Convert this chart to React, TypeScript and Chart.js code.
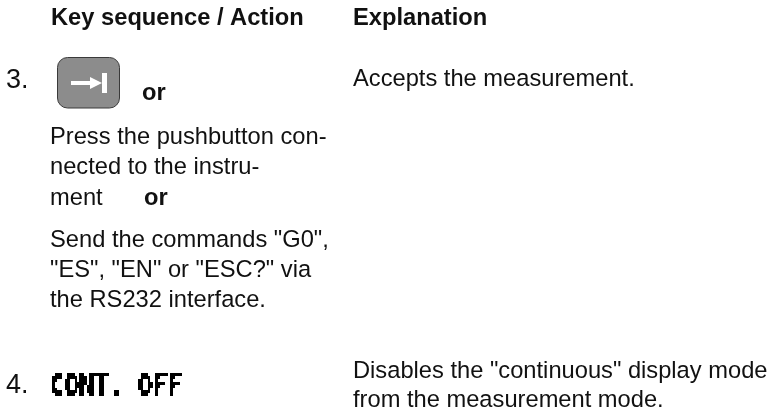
import React, { useEffect, useRef } from "react";
import { Chart, registerables } from "chart.js";

Chart.register(...registerables);

const headerTexts = ["Key sequence / Action", "Explanation"];
const bodyTexts = [
  "Press the pushbutton con-",
  "nected to the instru-",
  "ment",
  'Send the commands "G0",',
  '"ES", "EN" or "ESC?" via',
  "the RS232 interface.",
  "Accepts the measurement.",
  'Disables the "continuous" display mode',
  "from the measurement mode.",
];
const stepTexts = ["3.", "4."];
const orTexts = ["or", "or"];
const lcdText = "CONT. OFF";

const headerX = [51, 353];
const headerY = [25, 25];
const bodyX = [50, 50, 50, 50, 50, 50, 353, 353, 353];
const bodyY = [144, 174, 205, 247, 277, 307, 86, 378, 407];
const stepX = [6, 6];
const stepY = [88, 393];
const orX = [142, 144];
const orY = [100, 205];

const FONT = '"Liberation Sans", Arial, sans-serif';
const INK = "#111";

function drawLcd(ctx: CanvasRenderingContext2D, x: number, baseY: number) {
  // Low resolution, thresholded text scaled up to imitate a dot-matrix display.
  const cellW = 2.45;
  const cellH = 2.9;
  const off = document.createElement("canvas");
  off.width = 56;
  off.height = 10;
  const o = off.getContext("2d")!;
  o.textBaseline = "alphabetic";
  o.save();
  o.scale(1 / cellW, 1 / cellH);
  o.font = `bold 24.4px "DejaVu Sans Mono", monospace`;
  o.lineWidth = 0.6;
  o.scale(1, 1.3);
  o.fillText(lcdText, 0, 23 / 1.3);
  o.restore();
  const img = o.getImageData(0, 0, off.width, off.height);
  for (let i = 3; i < img.data.length; i += 4) {
    const on = img.data[i] > 95;
    img.data[i] = on ? 255 : 0;
  }
  o.putImageData(img, 0, 0);
  ctx.save();
  ctx.imageSmoothingEnabled = false;
  ctx.drawImage(off, x, baseY - 23, off.width * cellW, off.height * cellH);
  ctx.restore();
}

export default function App() {
  const ref = useRef<HTMLCanvasElement>(null);
  useEffect(() => {
    document.body.style.margin = "0";
    const textPlugin = {
      id: "pageText",
      afterDraw(chart: any) {
        const { ctx, scales } = chart;
        const X = (v: number) => scales.x.getPixelForValue(v);
        const Y = (v: number) => scales.y.getPixelForValue(v);
        ctx.save();
        ctx.textBaseline = "alphabetic";
        ctx.textAlign = "left";
        ctx.fillStyle = INK;
        ctx.font = `bold 23.7px ${FONT}`;
        headerTexts.forEach((t, i) => ctx.fillText(t, X(headerX[i]), Y(headerY[i])));
        orTexts.forEach((t, i) => ctx.fillText(t, X(orX[i]), Y(orY[i])));
        ctx.font = `23.7px ${FONT}`;
        bodyTexts.forEach((t, i) => ctx.fillText(t, X(bodyX[i]), Y(bodyY[i])));
        ctx.font = `27px ${FONT}`;
        stepTexts.forEach((t, i) => ctx.fillText(t, X(stepX[i]), Y(stepY[i])));

        drawLcd(ctx, X(50), Y(396));

        // Key cap
        ctx.beginPath();
        ctx.roundRect(X(57.5), Y(57.5), 62, 50.5, 10);
        ctx.fillStyle = "#8c8c8c";
        ctx.fill();
        ctx.strokeStyle = "#3a3a3a";
        ctx.lineWidth = 1;
        ctx.stroke();
        ctx.fillStyle = "#fff";
        ctx.fillRect(X(71), Y(81), 21, 4);
        ctx.fillRect(X(102), Y(73), 5, 20);
        ctx.beginPath();
        ctx.moveTo(X(102), Y(83));
        ctx.lineTo(X(90), Y(77));
        ctx.lineTo(X(90), Y(89));
        ctx.closePath();
        ctx.fill();
        ctx.restore();
      },
    };
    const chart = new Chart(ref.current!, {
      type: "scatter",
      data: { datasets: [{ data: [], pointRadius: 0 }] },
      options: {
        animation: false,
        responsive: false,
        layout: { padding: 0 },
        plugins: { legend: { display: false }, tooltip: { enabled: false } },
        scales: {
          x: { type: "linear", min: 0, max: 774, display: false },
          y: { type: "linear", min: 0, max: 411, reverse: true, display: false },
        },
      },
      plugins: [textPlugin],
    });
    return () => chart.destroy();
  }, []);
  return (
    <div style={{ width: 774, height: 411, background: "#fff" }}>
      <canvas ref={ref} width={774} height={411} style={{ display: "block" }} />
    </div>
  );
}
